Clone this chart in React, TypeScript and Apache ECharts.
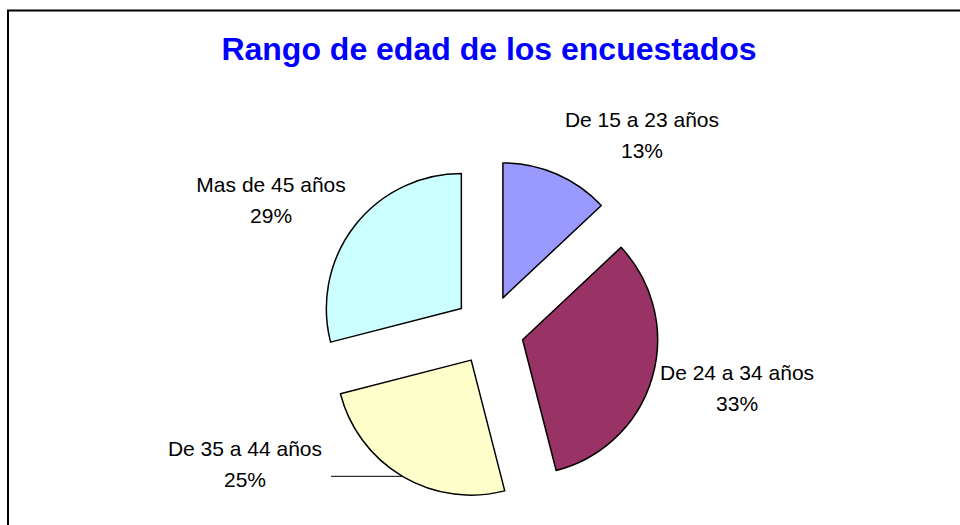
import React, { useEffect, useRef } from "react";
import * as echarts from "echarts";

const TITLE = "Rango de edad de los encuestados";
const CATEGORIES = ["De 15 a 23 años", "De 24 a 34 años", "De 35 a 44 años", "Mas de 45 años"];
const VALUES = [13, 33, 25, 29];
const COLORS = ["#9999FF", "#993366", "#FFFFCC", "#CCFFFF"];
const SHOW_LEADER = [false, false, true, false];
// label placement parameters (leader length along radius, horizontal length, alignment)
const LINE_LEN = [42.5, 37.8, 0, 42];
const LINE_LEN2 = [-17.4, -37.5, 71.5, -35.6];
const LABEL_ALIGN = ["center", "center", "right", "center"];
const LABEL_PAD = [
  [0, 0, 0, 0],
  [0, 0, 0, 0],
  [0, 0, 24, 0],
  [0, 0, 0, 0],
];

export default function App() {
  const ref = useRef<HTMLDivElement>(null);
  useEffect(() => {
    if (!ref.current) return;
    const chart = echarts.init(ref.current, null, { renderer: "svg" });
    const font = "'Liberation Sans', Arial, sans-serif";
    const tok = { fontSize: 21, lineHeight: 31, fontFamily: font, color: "#000", width: 162, align: "center" };
    chart.setOption({
      animation: false,
      backgroundColor: "#ffffff",
      title: {
        text: TITLE,
        left: 484,
        textAlign: "center",
        top: 28,
        textStyle: {
          color: "#0000FF",
          fontSize: 32,
          fontWeight: "bold",
          fontFamily: font,
        },
      },
      graphic: [
        {
          type: "rect",
          shape: { x: 8, y: 10.5, width: 1000, height: 600 },
          style: { fill: "none", stroke: "#000", lineWidth: 2 },
          silent: true,
        },
      ],
      series: [
        {
          type: "pie",
          center: [489, 330],
          radius: 135,
          startAngle: 90,
          clockwise: true,
          selectedMode: "multiple",
          selectedOffset: 35,
          avoidLabelOverlap: false,
          itemStyle: { borderColor: "#000", borderWidth: 1.5 },
          select: { itemStyle: { borderColor: "#000", borderWidth: 1.5 } },
          emphasis: { disabled: true },
          label: {
            show: true,
            position: "outside",
            formatter: "{n|{b}}\n{n|{d}%}",
            color: "#000",
            fontSize: 21,
            lineHeight: 31,
            fontFamily: font,
            align: "center",
            rich: { n: tok },
          },
          labelLine: {
            show: true,
            lineStyle: { color: "#000", width: 1 },
          },
          data: CATEGORIES.map((name, i) => ({
            name,
            value: VALUES[i],
            selected: true,
            itemStyle: { color: COLORS[i] },
            label: { align: LABEL_ALIGN[i], padding: LABEL_PAD[i] },
            labelLine: {
              show: SHOW_LEADER[i],
              length: LINE_LEN[i],
              length2: LINE_LEN2[i],
              lineStyle: { color: "#000", width: 1 },
            },
          })),
        },
      ],
    });
    return () => chart.dispose();
  }, []);
  return (
    <div
      ref={ref}
      style={{ position: "absolute", left: 0, top: 0, width: 960, height: 525 }}
    />
  );
}
